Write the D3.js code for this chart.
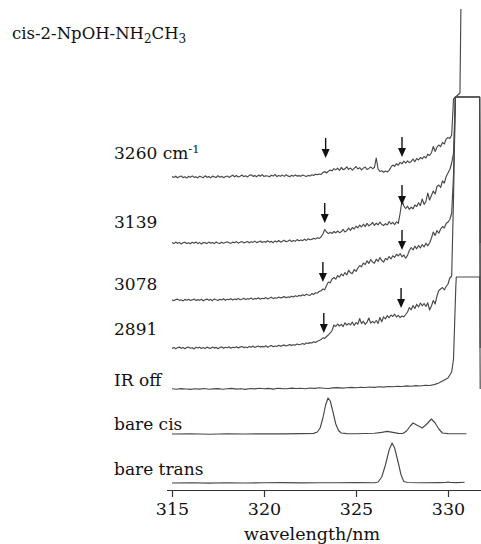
<!DOCTYPE html>
<html>
<head>
<meta charset="utf-8">
<script src="https://cdn.jsdelivr.net/npm/d3@7"></script>
<style>
  html, body { margin: 0; padding: 0; background: #fff; }
  svg { display: block; }
  text { font-family: "DejaVu Serif", serif; fill: #111; }
</style>
</head>
<body>
<svg id="chart" width="481" height="544"></svg>
<script>
// Wavelength grid for the noisy IR-UV traces: 315.0 .. 330.2 nm in 0.1 nm steps
const gridStart = 315.0, gridStep = 0.1;

// Trace names (top to bottom) and their vertical offsets (arbitrary intensity units)
const traceNames = ["3260", "3139", "3078", "2891", "IR off", "bare cis", "bare trans"];
const traceOffsets = [313, 247, 190, 142, 101, 56, 7];

// Signal above each offset, 0.1 nm spacing
const sig3260 = [
  0.5, -0.5, 0.8, -0.8, 0.3, 1.0, -0.6, 0.2, -1.0, 0.6,
  -0.2, 1.1, -0.4, 0.3, -0.9, 0.7, 0.0, -0.7, 1.2, -0.3,
  0.4, -0.8, 0.9, 0.1, -0.5, 1.3, -0.2, 0.6, -0.6, 0.2,
  1.0, -0.4, 0.7, 1.8, 0.2, 1.5, -0.1, 0.8, 2.0, 0.4,
  1.2, 0.0, 1.6, 2.2, 0.6, 1.4, 0.3, 1.9, 0.8, 2.4,
  0.5, 1.3, 1.0, 0.2, 1.8, 0.9, 2.6, 0.4, 1.5, 0.7,
  1.9, 0.6, 2.3, 1.1, 0.3, 1.7, 0.8, 2.1, 0.9, 1.4,
  0.7, 2.0, 1.2, 0.5, 1.6, 1.0, 2.2, 1.5, 2.8, 2.4,
  3.0, 2.6, 4.2, 5.5, 4.0, 5.8, 7.0, 6.2, 8.4, 7.1,
  8.8, 6.5, 9.6, 7.4, 8.1, 10.2, 7.6, 9.0, 6.8, 8.7,
  10.5, 8.0, 9.3, 7.2, 8.9, 9.8, 7.5, 8.6, 10.1, 8.3,
  9.4, 19.0, 8.0, 5.5, 6.2, 4.8, 5.9, 5.0, 6.6, 9.8,
  12.0, 10.6, 13.4, 11.8, 14.6, 13.2, 15.8, 13.9, 16.2, 14.4,
  15.6, 17.9, 15.2, 18.6, 17.0, 19.4, 18.2, 20.5, 19.0, 22.8,
  21.5, 24.2, 30.5, 25.6, 29.8, 32.0, 30.4, 34.6, 33.0, 37.8,
  39.5, 38.6, 42.0
];
const sig3139 = [
  0.4, -0.6, 0.9, -0.3, 0.6, -0.9, 0.2, 0.8, -0.5, 0.3,
  -0.8, 0.7, -0.2, 1.0, -0.6, 0.4, -1.0, 0.5, 0.1, -0.4,
  0.9, -0.3, 0.6, -0.7, 1.1, 0.0, -0.5, 0.8, -0.2, 0.5,
  1.2, 0.2, -0.4, 0.9, 0.3, 1.4, -0.1, 0.7, 1.6, 0.1,
  0.8, 1.5, 0.2, 1.2, 0.6, 1.9, 0.4, 1.1, 2.0, 0.5,
  1.4, 0.7, 2.2, 0.9, 1.6, 0.3, 2.1, 1.0, 2.5, 0.8,
  1.8, 2.7, 1.2, 2.0, 3.1, 1.4, 2.6, 1.7, 3.4, 2.2,
  3.0, 2.4, 3.8, 2.6, 4.2, 3.3, 3.6, 4.8, 3.9, 5.2,
  4.6, 6.0, 9.0, 13.5, 11.0, 9.4, 10.8, 9.6, 11.5, 10.2,
  12.0, 10.4, 11.2, 13.6, 11.0, 12.4, 14.8, 12.6, 15.5, 14.0,
  16.8, 15.2, 17.9, 16.0, 18.8, 16.4, 19.6, 17.2, 18.4, 20.5,
  17.6, 19.8, 18.2, 20.8, 18.6, 17.5, 19.4, 18.0, 21.5, 19.0,
  20.6, 18.4, 21.2, 19.6, 30.0, 42.5, 37.0, 34.5, 36.8, 33.6,
  35.8, 34.2, 38.0, 36.5, 40.2, 37.4, 44.0, 38.6, 41.5, 50.0,
  43.0, 47.5, 52.0, 49.0, 56.5, 58.0, 55.5, 62.0, 60.0, 66.5,
  70.0, 73.5, 80.0
];
const sig3078 = [
  0.3, -0.7, 0.5, 0.9, -0.4, 0.2, -0.9, 0.6, -0.2, 0.8,
  -0.5, 0.1, 1.0, -0.6, 0.4, -0.3, 0.7, -0.8, 0.3, 0.9,
  -0.2, 0.6, -0.7, 1.1, 0.2, -0.4, 0.8, 0.0, 1.2, -0.3,
  0.7, 0.2, 1.4, -0.1, 0.9, 0.4, 1.6, 0.3, 0.8, 1.8,
  0.5, 1.3, 0.9, 2.0, 0.6, 1.5, 1.1, 2.2, 0.8, 1.7,
  1.2, 2.4, 1.0, 1.9, 2.8, 1.4, 2.3, 1.8, 3.0, 2.1,
  2.6, 3.4, 2.2, 3.1, 2.7, 3.8, 3.0, 4.2, 3.5, 4.6,
  4.0, 5.2, 4.4, 5.8, 5.0, 4.6, 6.4, 5.6, 7.2, 6.8,
  8.5, 9.2, 11.0, 10.2, 14.5, 18.0, 17.2, 21.0, 22.5, 20.8,
  24.5, 22.8, 26.0, 24.2, 27.5, 25.0, 29.8, 27.2, 26.4, 30.5,
  28.6, 32.0, 34.5, 33.2, 37.0, 35.4, 39.2, 36.6, 40.5, 38.0,
  36.8, 40.8, 38.6, 42.4, 39.5, 37.8, 41.6, 40.2, 43.5, 41.0,
  44.2, 42.6, 45.8, 44.0, 46.5, 43.2, 45.0, 41.8, 44.6, 49.5,
  52.5, 50.0, 53.8, 51.2, 54.6, 52.0, 55.5, 53.0, 56.8, 54.2,
  57.0, 62.0, 68.0, 64.5, 69.5, 66.8, 71.0, 73.5, 72.0, 76.5,
  78.0, 80.5, 87.0
];
const sig2891 = [
  -0.4, 0.6, -0.8, 0.2, 0.9, -0.3, 0.5, -0.7, 0.4, 1.0,
  -0.2, 0.3, -0.9, 0.7, 0.0, 0.8, -0.5, 0.4, -0.6, 0.9,
  0.1, -0.4, 1.0, -0.1, 0.6, -0.7, 0.5, 1.1, -0.3, 0.7,
  0.2, 1.2, -0.2, 0.8, 0.3, 1.3, 0.1, 0.9, 1.5, 0.4,
  1.0, 0.3, 1.6, 0.7, 1.9, 0.5, 1.4, 2.0, 0.9, 1.6,
  1.1, 2.2, 0.8, 1.7, 2.5, 1.3, 2.0, 1.5, 2.7, 1.9,
  2.4, 3.1, 2.0, 2.8, 3.4, 2.6, 3.2, 2.9, 4.0, 3.3,
  3.8, 4.5, 3.6, 5.0, 4.6, 5.4, 5.0, 6.2, 5.6, 6.8,
  7.5, 8.4, 10.2, 9.6, 11.5, 13.0, 15.2, 17.5, 23.0, 21.5,
  24.0, 22.0, 23.6, 21.4, 25.2, 22.8, 24.6, 23.0, 26.0, 22.5,
  25.5, 23.8, 29.5, 24.4, 26.8, 23.6, 25.8, 30.0, 24.8, 26.6,
  25.0, 27.5, 24.6, 30.5, 26.2, 31.2, 29.0, 32.5, 30.2, 33.0,
  31.5, 33.8, 31.0, 32.6, 30.4, 32.0, 31.2, 33.5, 36.0, 40.5,
  38.2, 42.5, 39.6, 43.8, 41.0, 45.0, 42.2, 44.5, 41.5, 45.2,
  38.0, 42.0, 47.5, 44.0, 52.0, 57.5, 59.0, 60.5, 58.0, 61.5,
  64.0, 70.0, 72.0
];

// Detector edge beyond 330.2 nm: [wavelength, signal] pairs per trace
const edge3260 = [[330.3, 78], [330.65, 84], [330.7, 168]];
const edge3139 = [[330.3, 90], [330.4, 146], [331.72, 146], [331.75, 0]];
const edge3078 = [[330.3, 125], [330.4, 203], [331.72, 203], [331.75, 0]];
const edge2891 = [[330.3, 150], [330.4, 251], [331.72, 251], [331.75, 0]];

// IR off: 315.0 .. 330.0 nm in 0.25 nm steps, then the edge
const irOffStep = 0.25;
const irOff = [
  0.2, -0.3, 0.4, 0.0, -0.4, 0.3, -0.1, 0.5, -0.2, 0.1,
  0.4, -0.3, 0.2, 0.6, -0.1, 0.3, -0.4, 0.5, 0.1, 0.7,
  0.2, 0.6, -0.1, 0.8, 0.4, 0.2, 0.9, 0.5, 0.7, 0.3,
  1.0, 0.6, 1.2, 0.8, 0.5, 1.1, 1.4, 0.9, 1.3, 1.6,
  1.2, 1.8, 1.5, 2.0, 1.6, 2.3, 1.9, 2.5, 2.2, 2.8,
  2.5, 3.1, 2.7, 3.4, 3.0, 3.8, 3.5, 4.4, 6.0, 8.5,
  11.0
];
const edgeIrOff = [[330.1, 14], [330.2, 17], [330.3, 30], [330.42, 100], [330.45, 112], [331.72, 112], [331.75, 0]];

// Bare-molecule spectra: [wavelength, signal]
const bareCis = [
  [315, 0], [316, 0.3], [317, -0.2], [318, 0.2], [319, 0], [320, 0.3], [321, 0.1], [322, 0.4],
  [322.7, 0.6], [322.9, 2], [323.05, 6], [323.2, 16], [323.35, 29], [323.48, 36], [323.6, 33],
  [323.75, 22], [323.9, 10], [324.05, 3.5], [324.2, 1], [324.5, 0.4], [325, 0.3], [325.5, 0.5],
  [326, 0.8], [326.4, 1.6], [326.7, 2.6], [327.0, 1.6], [327.3, 0.6], [327.55, 0.5], [327.75, 3],
  [327.95, 8], [328.1, 11], [328.3, 9], [328.6, 6], [328.85, 10], [329.1, 15], [329.3, 11],
  [329.5, 5], [329.7, 1], [330, 0.4], [330.5, 0.2], [331, 0.3]
];
const bareTrans = [
  [315, 0], [316, 0.2], [317, -0.1], [318, 0.3], [319, 0], [320, 0.2], [321, 0.4], [322, 0.1],
  [323, 0.3], [324, 0.2], [325, 0.4], [326, 0.3], [326.2, 1], [326.4, 6], [326.6, 18], [326.8, 33],
  [326.96, 40], [327.1, 35], [327.3, 20], [327.45, 8], [327.6, 1.5], [327.8, 0.5], [328.5, 0.3],
  [329.5, 0.4], [329.9, 0.6], [330, 1], [330.1, 0.6], [330.5, 0.4], [330.9, 0.8]
];

// Down arrows marking band positions: trace index, wavelength, tip height above offset
const arrowTrace = [0, 0, 1, 1, 2, 2, 3, 3];
const arrowNm = [323.35, 327.5, 323.3, 327.5, 323.2, 327.5, 323.25, 327.45];
const arrowTip = [19, 20, 20, 38, 18, 50, 15, 40];

// Axis ticks
const tickValues = [315, 320, 325, 330];

// ---------- drawing ----------
const svg = d3.select("#chart");
const x = d3.scaleLinear().domain([315, 330]).range([172, 448]);
const y = d3.scaleLinear().domain([0, 490]).range([490, 0]);

const onGrid = (arr, start, step) => arr.map((v, i) => [start + i * step, v]);
const series = [
  onGrid(sig3260, gridStart, gridStep).concat(edge3260),
  onGrid(sig3139, gridStart, gridStep).concat(edge3139),
  onGrid(sig3078, gridStart, gridStep).concat(edge3078),
  onGrid(sig2891, gridStart, gridStep).concat(edge2891),
  onGrid(irOff, gridStart, irOffStep).concat(edgeIrOff),
  bareCis,
  bareTrans
];

const line = d3.line().x(d => x(d[0])).y(d => y(d[1]));

svg.append("defs").append("clipPath").attr("id", "plotClip")
  .append("rect").attr("x", 0).attr("y", 0).attr("width", 481).attr("height", 490);

const traces = svg.append("g").attr("clip-path", "url(#plotClip)");
series.forEach((s, k) => {
  const off = traceOffsets[k];
  traces.append("path")
    .datum(s.map(d => [d[0], d[1] + off]))
    .attr("d", line)
    .attr("fill", "none")
    .attr("stroke", "#484848")
    .attr("stroke-width", 1.15)
    .attr("stroke-linejoin", "round");
});

// Trace labels: baseline shift relative to each trace offset
const labelDy = [-18, -15, -10, -13, -3, -4, -8];
const labels = svg.append("g").attr("font-size", 17);
traceNames.forEach((name, k) => {
  const t = labels.append("text")
    .attr("x", 114)
    .attr("y", y(traceOffsets[k]) + labelDy[k]);
  if (k === 0) {
    t.append("tspan").text(name + " cm");
    t.append("tspan").attr("font-size", 11.5).attr("dy", -6).text("-1");
  } else {
    t.text(name);
  }
});

// Arrows
const arrows = svg.append("g");
arrowTrace.forEach((ti, k) => {
  const ax = x(arrowNm[k]);
  const tip = y(traceOffsets[ti] + arrowTip[k]);
  arrows.append("line")
    .attr("x1", ax).attr("x2", ax)
    .attr("y1", tip - 20).attr("y2", tip - 6)
    .attr("stroke", "#111").attr("stroke-width", 1.4);
  arrows.append("path")
    .attr("d", `M${ax - 4},${tip - 9} L${ax + 4},${tip - 9} L${ax},${tip} Z`)
    .attr("fill", "#111");
});

// Wavelength axis
const axisScale = x.copy().domain([314.7, 332]).range([x(314.7), x(332)]);
const axis = svg.append("g")
  .attr("transform", "translate(0,490)")
  .call(d3.axisBottom(axisScale).tickValues(tickValues).tickSizeInner(7).tickSizeOuter(0).tickPadding(6));
axis.select(".domain").attr("stroke", "#333").attr("stroke-width", 1.2);
axis.selectAll(".tick line").attr("stroke", "#333").attr("stroke-width", 1.2);
axis.selectAll(".tick text")
  .attr("font-family", "DejaVu Serif, serif")
  .attr("font-size", 17.5)
  .attr("fill", "#111");

svg.append("text")
  .attr("x", 312).attr("y", 540)
  .attr("text-anchor", "middle")
  .attr("font-size", 17.5)
  .text("wavelength/nm");

// Title with subscripts
const title = svg.append("text").attr("x", 12).attr("y", 39).attr("font-size", 16.5);
title.append("tspan").text("cis-2-NpOH-NH");
title.append("tspan").attr("font-size", 12).attr("dy", 4).text("2");
title.append("tspan").attr("dy", -4).text("CH");
title.append("tspan").attr("font-size", 12).attr("dy", 4).text("3");
</script>
</body>
</html>
